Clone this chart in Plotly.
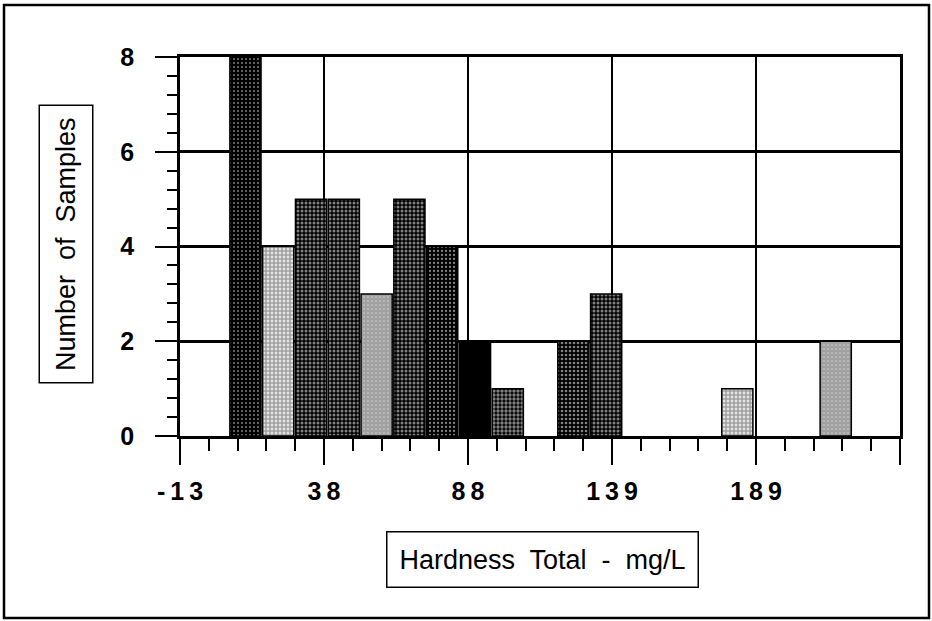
"""Istogramma durezza totale (mg/L)."""

import numpy as np
import plotly.graph_objects as go

# dati
bin_start = 4.6
bin_width = 11.5
counts = [8, 4, 5, 5, 3, 5, 4, 2, 1, 0, 2, 3, 0, 0, 0, 1, 0, 0, 2]

x_tick_vals = [-12.6, 37.9, 88.4, 138.9, 189.4, 239.9]
x_tick_text = ["-\u20091\u20093", "3\u20098", "8\u20098", "1\u20093\u20099", "1\u20098\u20099", ""]
y_tick_vals = [0, 2, 4, 6, 8]

# retino di ogni barra (solo barre non nulle): fondo, puntini, densita'
bar_bg = ["black", "white", "black", "black", "white", "black", "black",
          "black", "black", "black", "black", "white", "white"]
bar_fg = ["white", "black", "white", "white", "black", "white", "white",
          "black", "white", "white", "white", "black", "black"]
bar_solid = [0.2, 0.75, 0.45, 0.45, 0.85, 0.45, 0.25, 0.0, 0.55, 0.35, 0.45, 0.75, 0.85]

counts = np.array(counts)
centers = bin_start + bin_width * (np.arange(len(counts)) + 0.5)
keep = counts > 0

# area del grafico in pixel
W, H = 932, 621
L, R, T, B = 180, 32, 57, 185
pw, ph = W - L - R, H - T - B


def px(xp):
    return (xp - L) / pw


def py(yp):
    return (H - B - yp) / ph


fig = go.Figure()
fig.add_trace(go.Bar(
    x=centers[keep], y=counts[keep], width=bin_width * 0.95,
    marker=dict(
        color=bar_bg,
        line=dict(color="black", width=1.5),
        pattern=dict(shape=".", size=4, fgcolor=bar_fg,
                     solidity=bar_solid, fillmode="overlay"),
    ),
    showlegend=False,
))

tick_font = dict(family="Liberation Sans, Arial", size=25, color="black", weight="bold")
title_font = dict(family="Liberation Sans, Arial", size=27, color="black")

fig.update_layout(
    width=W, height=H,
    margin=dict(l=L, r=R, t=T, b=B),
    paper_bgcolor="white", plot_bgcolor="white",
    xaxis=dict(
        range=[x_tick_vals[0], x_tick_vals[-1]],
        tickmode="array", tickvals=x_tick_vals, ticktext=x_tick_text,
        ticks="outside", ticklen=26, tickwidth=2, tickcolor="black",
        ticklabelstandoff=5,
        minor=dict(ticks="outside", ticklen=12, tickwidth=2, tickcolor="black",
                   tick0=-12.6, dtick=10.1, showgrid=False),
        showgrid=True, gridcolor="black", gridwidth=2,
        showline=True, linecolor="black", linewidth=2.5, mirror=True,
        zeroline=False, tickfont=tick_font,
    ),
    yaxis=dict(
        range=[0, 8],
        tickmode="array", tickvals=y_tick_vals,
        ticks="outside", ticklen=22, tickwidth=2, tickcolor="black",
        ticklabelstandoff=16,
        minor=dict(ticks="outside", ticklen=10, tickwidth=2, tickcolor="black",
                   tick0=0, dtick=0.4, showgrid=False),
        showgrid=True, gridcolor="black", gridwidth=2.5,
        showline=True, linecolor="black", linewidth=2.5, mirror=True,
        zeroline=False, tickfont=tick_font,
    ),
    shapes=[dict(
        type="rect", xref="paper", yref="paper",
        x0=px(4), x1=px(929), y0=py(618), y1=py(5),
        line=dict(color="black", width=2.5), layer="below",
    )],
    annotations=[
        dict(text="Number  of  Samples", textangle=-90,
             xref="paper", yref="paper", x=px(65.5), y=py(244),
             xanchor="center", yanchor="middle",
             showarrow=False, font=title_font,
             bordercolor="black", borderwidth=1.5, borderpad=11,
             bgcolor="white"),
        dict(text="Hardness  Total  -  mg/L",
             xref="paper", yref="paper", x=px(542.5), y=py(559),
             xanchor="center", yanchor="middle",
             showarrow=False, font=title_font,
             bordercolor="black", borderwidth=1.5, borderpad=12,
             bgcolor="white"),
    ],
)

fig.write_html("out.html", config={"displayModeBar": False},
               post_script="document.body.style.margin='0';")
